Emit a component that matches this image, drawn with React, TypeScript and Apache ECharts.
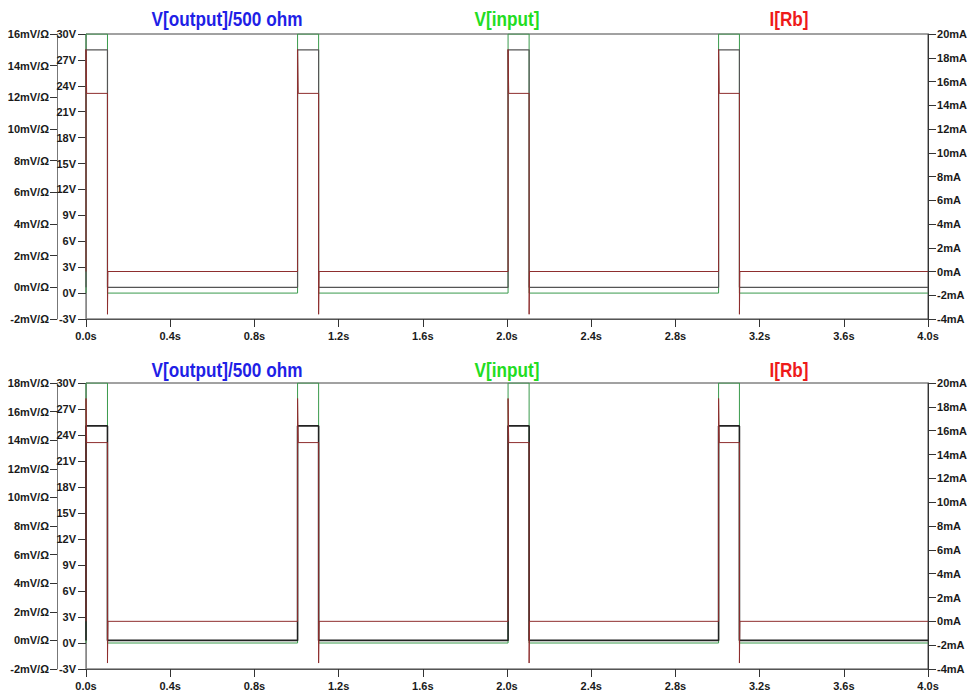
import React, { useEffect, useRef } from 'react';
import * as echarts from 'echarts';

// ---------- Data ----------
// Time axis (s)
const timeMin = 0;
const timeMax = 4.0;
const timeStep = 0.4;

// Top panel
const topInputT = [0, 0, 0.102, 0.102, 1.005, 1.005, 1.105, 1.105, 2.005, 2.005, 2.105, 2.105, 3.005, 3.005, 3.104, 3.104, 4.0];
const topInputV = [0, 30, 30, 0, 0, 30, 30, 0, 0, 30, 30, 0, 0, 30, 30, 0, 0];

const topOutputT = [0, 0, 0.102, 0.102, 1.005, 1.005, 1.105, 1.105, 2.005, 2.005, 2.105, 2.105, 3.005, 3.005, 3.104, 3.104, 4.0];
const topOutputV = [0, 15, 15, 0, 0, 15, 15, 0, 0, 15, 15, 0, 0, 15, 15, 0, 0];

const topIrbT = [0, 0, 0.003, 0.102, 0.102, 0.104, 1.005, 1.005, 1.008, 1.105, 1.105, 1.107, 2.005, 2.005, 2.008, 2.105, 2.105, 2.107, 3.005, 3.005, 3.008, 3.104, 3.104, 3.106, 4.0];
const topIrbV = [0, 18.7, 15, 15, -3.6, 0, 0, 18.7, 15, 15, -3.6, 0, 0, 18.7, 15, 15, -3.6, 0, 0, 18.7, 15, 15, -3.6, 0, 0];

// Bottom panel
const botInputT = [0, 0, 0.102, 0.102, 1.005, 1.005, 1.105, 1.105, 2.005, 2.005, 2.105, 2.105, 3.005, 3.005, 3.104, 3.104, 4.0];
const botInputV = [0, 30, 30, 0, 0, 30, 30, 0, 0, 30, 30, 0, 0, 30, 30, 0, 0];

const botOutputT = [0, 0, 0.102, 0.102, 1.005, 1.005, 1.105, 1.105, 2.005, 2.005, 2.105, 2.105, 3.005, 3.005, 3.104, 3.104, 4.0];
const botOutputV = [0, 15, 15, 0, 0, 15, 15, 0, 0, 15, 15, 0, 0, 15, 15, 0, 0];

const botIrbT = [0, 0, 0.003, 0.102, 0.102, 0.104, 1.005, 1.005, 1.008, 1.105, 1.105, 1.107, 2.005, 2.005, 2.008, 2.105, 2.105, 2.107, 3.005, 3.005, 3.008, 3.104, 3.104, 3.106, 4.0];
const botIrbV = [0, 18.7, 15, 15, -3.5, 0, 0, 18.7, 15, 15, -3.5, 0, 0, 18.7, 15, 15, -3.5, 0, 0, 18.7, 15, 15, -3.5, 0, 0];

// Axis ranges
const voltRange = [-3, 30, 3];
const mARange = [-4, 20, 2];
const topMvRange = [-2, 16, 2];
const botMvRange = [-2, 18, 2];

const titles = ['V[output]/500 ohm', 'V[input]', 'I[Rb]'];
const titleColors = ['#1f1fe6', '#22dd22', '#ee1a1a'];

// ---------- Styles ----------
const FONT = "'Liberation Sans', Arial, sans-serif";
const label = { color: '#1a1a1a', fontSize: 11, fontWeight: 'bold' as const, fontFamily: FONT };
const C_INPUT = '#3a9a4c';
const C_IRB = '#8e2e2e';

const zip = (t: number[], v: number[]) => t.map((x, i) => [x, v[i]]);

export default function App() {
  const ref = useRef<HTMLDivElement>(null);
  useEffect(() => {
    if (!ref.current) return;
    const chart = echarts.init(ref.current, undefined, { renderer: 'svg' });

    const grids = [
      { left: 86, top: 34, width: 846, height: 285 },
      { left: 86, top: 383, width: 846, height: 286 },
    ];

    const xAxis = grids.map((_, gi) => ({
      type: 'value',
      gridIndex: gi,
      min: timeMin,
      max: timeMax,
      interval: timeStep,
      axisLine: { show: true, onZero: false, lineStyle: { color: '#555', width: 1 } },
      axisTick: { show: true, length: 8, lineStyle: { color: '#333' } },
      axisLabel: { ...label, margin: 11, formatter: (v: number) => v.toFixed(1) + 's' },
      splitLine: { show: false },
    }));

    const mkY = (gi: number, pos: string, offset: number, r: number[], unit: string, lineColor: string, margin: number, tickLen: number) => ({
      type: 'value',
      gridIndex: gi,
      position: pos,
      offset,
      min: r[0],
      max: r[1],
      interval: r[2],
      axisLine: { show: true, onZero: false, lineStyle: { color: lineColor, width: 1 } },
      axisTick: { show: true, length: tickLen, lineStyle: { color: '#333' } },
      axisLabel: { ...label, margin, formatter: (v: number) => `${v}${unit}` },
      splitLine: { show: false },
    });

    const yAxis = [
      mkY(0, 'left', 0, voltRange, 'V', '#888', 10, 8),
      mkY(0, 'left', 29, topMvRange, 'mV/Ω', '#777', 8, 7),
      mkY(0, 'right', 0, mARange, 'mA', '#333', 9, 8),
      mkY(1, 'left', 0, voltRange, 'V', '#888', 10, 8),
      mkY(1, 'left', 29, botMvRange, 'mV/Ω', '#777', 8, 7),
      mkY(1, 'right', 0, mARange, 'mA', '#333', 9, 8),
    ];

    const line = (name: string, xi: number, yi: number, data: number[][], color: string, width = 1) => ({
      name,
      type: 'line',
      xAxisIndex: xi,
      yAxisIndex: yi,
      data,
      showSymbol: false,
      symbol: 'none',
      silent: true,
      lineStyle: { color, width },
      emphasis: { disabled: true },
    });

    const series = [
      line('V[input]', 0, 0, zip(topInputT, topInputV), C_INPUT),
      line('V[output]/500 ohm', 0, 1, zip(topOutputT, topOutputV), '#555', 1.2),
      line('I[Rb]', 0, 2, zip(topIrbT, topIrbV), C_IRB),
      line('V[input]', 1, 3, zip(botInputT, botInputV), C_INPUT),
      line('V[output]/500 ohm', 1, 4, zip(botOutputT, botOutputV), '#222', 1.6),
      line('I[Rb]', 1, 5, zip(botIrbT, botIrbV), C_IRB),
    ];

    const titleX = [227, 507, 789];
    const titleY = [19, 370];
    const graphic: any[] = [];
    titleY.forEach((y) => {
      titles.forEach((t, i) => {
        graphic.push({
          type: 'text',
          x: titleX[i],
          y,
          scaleX: 0.86,
          silent: true,
          style: {
            text: t,
            fill: titleColors[i],
            font: `bold 20px ${FONT}`,
            textAlign: 'center',
            textVerticalAlign: 'middle',
          },
        });
      });
    });

    chart.setOption({
      animation: false,
      backgroundColor: '#ffffff',
      grid: grids.map((g) => ({ ...g, show: true, borderColor: '#444', borderWidth: 1, backgroundColor: 'transparent' })),
      xAxis,
      yAxis,
      series,
      graphic,
    });
    return () => chart.dispose();
  }, []);

  return <div ref={ref} style={{ position: 'absolute', left: 0, top: 0, width: 970, height: 692 }} />;
}
